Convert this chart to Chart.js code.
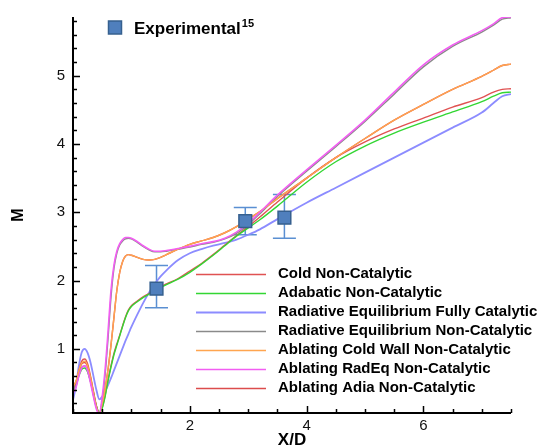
<!DOCTYPE html>
<html>
<head>
<meta charset="utf-8">
<script src="https://cdn.jsdelivr.net/npm/chart.js@4.4.1/dist/chart.umd.min.js"></script>
<style>
  html, body { margin: 0; padding: 0; background: #fff; }
</style>
</head>
<body>
<canvas id="machChart" width="545" height="448"></canvas>
<script>
// X/D stations shared by every computed curve
const xd = [0, 0.05, 0.1, 0.15, 0.2, 0.25, 0.3, 0.35, 0.4, 0.45,
  0.5, 0.55, 0.6, 0.65, 0.7, 0.75, 0.8, 0.85, 0.9, 0.95,
  1.0, 1.1, 1.2, 1.3, 1.4, 1.5, 1.6, 1.8, 2.0, 2.2,
  2.4, 2.6, 2.8, 3.0, 3.2, 3.5, 4.0, 4.5, 5.0, 5.5,
  6.0, 6.5, 7.0, 7.2, 7.35, 7.5];

// Mach number along the body for each case
const coldNonCat = [0.42, 0.50, 0.68, 0.82, 0.85, 0.78, 0.60, 0.38, 0.17, 0.06,
  0.14, 0.32, 0.55, 0.75, 0.93, 1.07, 1.20, 1.34, 1.47, 1.57,
  1.63, 1.70, 1.76, 1.81, 1.86, 1.91, 1.95, 2.03, 2.14, 2.25,
  2.38, 2.52, 2.66, 2.79, 2.93, 3.15, 3.50, 3.80, 4.03, 4.22,
  4.38, 4.54, 4.68, 4.76, 4.80, 4.81];
const adiabNonCat = [0.38, 0.45, 0.60, 0.70, 0.72, 0.66, 0.52, 0.34, 0.16, 0.07,
  0.13, 0.30, 0.53, 0.73, 0.91, 1.05, 1.19, 1.33, 1.46, 1.56,
  1.62, 1.69, 1.75, 1.80, 1.85, 1.90, 1.94, 2.02, 2.12, 2.24,
  2.37, 2.51, 2.65, 2.77, 2.89, 3.09, 3.44, 3.74, 3.97, 4.16,
  4.32, 4.47, 4.62, 4.70, 4.75, 4.76];
const radEqFullyCat = [0.25, 0.45, 0.75, 0.95, 1.00, 0.94, 0.80, 0.60, 0.40, 0.26,
  0.30, 0.38, 0.47, 0.57, 0.68, 0.79, 0.90, 1.01, 1.12, 1.22,
  1.32, 1.50, 1.67, 1.82, 1.95, 2.06, 2.15, 2.30, 2.40, 2.46,
  2.51, 2.55, 2.60, 2.67, 2.75, 2.90, 3.14, 3.36, 3.58, 3.80,
  4.02, 4.24, 4.46, 4.60, 4.70, 4.73];
const radEqNonCat = [0.40, 0.47, 0.62, 0.73, 0.75, 0.68, 0.52, 0.32, 0.14, 0.05,
  0.25, 0.62, 1.15, 1.75, 2.17, 2.40, 2.52, 2.58, 2.61, 2.62,
  2.61, 2.56, 2.50, 2.45, 2.42, 2.42, 2.43, 2.46, 2.49, 2.53,
  2.56, 2.61, 2.69, 2.82, 2.98, 3.23, 3.60, 3.96, 4.33, 4.73,
  5.13, 5.43, 5.64, 5.74, 5.83, 5.85];
const ablColdNonCat = [0.45, 0.52, 0.68, 0.79, 0.82, 0.75, 0.58, 0.36, 0.15, 0.05,
  0.20, 0.42, 0.70, 1.05, 1.45, 1.85, 2.12, 2.28, 2.36, 2.38,
  2.37, 2.34, 2.31, 2.30, 2.31, 2.34, 2.38, 2.46, 2.53, 2.58,
  2.63, 2.70, 2.79, 2.90, 3.01, 3.20, 3.50, 3.80, 4.08, 4.35,
  4.58, 4.80, 4.99, 5.08, 5.15, 5.17];
const ablRadEqNonCat = [0.35, 0.43, 0.60, 0.72, 0.75, 0.68, 0.50, 0.30, 0.12, 0.05,
  0.30, 0.70, 1.25, 1.85, 2.22, 2.43, 2.54, 2.60, 2.63, 2.63,
  2.62, 2.57, 2.51, 2.46, 2.43, 2.43, 2.44, 2.47, 2.50, 2.54,
  2.57, 2.62, 2.71, 2.84, 3.00, 3.25, 3.62, 3.98, 4.35, 4.76,
  5.16, 5.45, 5.66, 5.76, 5.85, 5.86];
const ablAdiaNonCat = [0.44, 0.52, 0.67, 0.78, 0.80, 0.74, 0.57, 0.36, 0.16, 0.06,
  0.20, 0.42, 0.70, 1.05, 1.45, 1.85, 2.12, 2.28, 2.36, 2.38,
  2.37, 2.34, 2.31, 2.30, 2.31, 2.34, 2.38, 2.46, 2.53, 2.58,
  2.63, 2.70, 2.79, 2.90, 3.01, 3.20, 3.50, 3.80, 4.08, 4.35,
  4.58, 4.80, 4.99, 5.08, 5.15, 5.17];

// Experimental points (ref. 15) with error bars
const expX = [1.43, 2.95, 3.62];
const expM = [1.88, 2.87, 2.92];
const expLow = [1.60, 2.67, 2.62];
const expHigh = [2.22, 3.07, 3.26];

const seriesNames = ["Cold Non-Catalytic", "Adabatic Non-Catalytic",
  "Radiative Equilibrium Fully Catalytic", "Radiative Equilibrium Non-Catalytic",
  "Ablating Cold Wall Non-Catalytic", "Ablating RadEq Non-Catalytic",
  "Ablating Adia Non-Catalytic"];
const seriesValues = [coldNonCat, adiabNonCat, radEqFullyCat, radEqNonCat,
  ablColdNonCat, ablRadEqNonCat, ablAdiaNonCat];

// tick labels
const xTickLabels = [2, 4, 6];
const yTickLabels = [1, 2, 3, 4, 5];

// styles
const seriesColors = ["#e05252", "#33d633", "#8c8cff", "#8a8a8a", "#ffa54f", "#f25ef2", "#dc4c4c"];
const seriesWidths = [1.4, 1.4, 1.8, 1.4, 1.4, 1.6, 1.4];
const seriesOrder = [4, 3, 6, 2, 1, 0, 5]; // lower = drawn on top
const FONT = "'Liberation Sans', Arial, Helvetica, sans-serif";

const xMinor = [];
for (let i = 0; i <= 15; i++) xMinor.push(i / 2);
const yMinor = [];
for (let i = 1; i <= 29; i++) yMinor.push(Math.round(i * 2) / 10);

const datasets = seriesValues.map((vals, i) => ({
  label: seriesNames[i],
  data: xd.map((x, j) => ({ x: x, y: vals[j] })),
  borderColor: seriesColors[i],
  borderWidth: seriesWidths[i],
  pointRadius: 0,
  fill: false,
  cubicInterpolationMode: "monotone",
  order: seriesOrder[i]
}));

datasets.push({
  label: "Experimental",
  data: expX.map((x, j) => ({ x: x, y: expM[j] })),
  showLine: false,
  pointStyle: "rect",
  pointRadius: 9,
  pointBackgroundColor: "#4f7fbd",
  pointBorderColor: "#36608f",
  pointBorderWidth: 1.5,
  order: -1
});

// error bars behind the squares
const errorBars = {
  id: "errorBars",
  beforeDatasetsDraw(chart) {
    const { ctx, scales: { x, y } } = chart;
    ctx.save();
    ctx.strokeStyle = "#5a8fd2";
    ctx.lineWidth = 1.5;
    expX.forEach((v, i) => {
      const px = x.getPixelForValue(v);
      const lo = y.getPixelForValue(expLow[i]);
      const hi = y.getPixelForValue(expHigh[i]);
      ctx.beginPath();
      ctx.moveTo(px, lo); ctx.lineTo(px, hi);
      ctx.moveTo(px - 11.5, lo); ctx.lineTo(px + 11.5, lo);
      ctx.moveTo(px - 11.5, hi); ctx.lineTo(px + 11.5, hi);
      ctx.stroke();
    });
    ctx.restore();
  }
};

// Tecplot style axes: only left and bottom, ticks pointing inward
const tecAxes = {
  id: "tecAxes",
  afterDraw(chart) {
    const { ctx, chartArea: a, scales: { x, y } } = chart;
    ctx.save();
    ctx.strokeStyle = "#000";
    ctx.lineWidth = 1.5;
    ctx.beginPath();
    xMinor.forEach(v => {
      const px = Math.round(x.getPixelForValue(v)) + 0.5;
      const len = xTickLabels.includes(v) ? 7 : 4;
      ctx.moveTo(px, a.bottom); ctx.lineTo(px, a.bottom - len);
    });
    yMinor.forEach(v => {
      const py = Math.round(y.getPixelForValue(v)) + 0.5;
      const len = yTickLabels.includes(v) ? 7 : 4;
      ctx.moveTo(a.left, py); ctx.lineTo(a.left + len, py);
    });
    ctx.stroke();
    ctx.lineWidth = 2;
    ctx.beginPath();
    ctx.moveTo(a.left, a.top);
    ctx.lineTo(a.left, a.bottom);
    ctx.lineTo(a.right, a.bottom);
    ctx.stroke();
    ctx.restore();
  }
};

// the two legends drawn inside the frame
const legends = {
  id: "legends",
  afterDraw(chart) {
    const ctx = chart.ctx;
    ctx.save();
    // Experimental marker
    ctx.fillStyle = "#4f7fbd";
    ctx.strokeStyle = "#36608f";
    ctx.lineWidth = 1.5;
    ctx.fillRect(108.5, 21, 13, 13);
    ctx.strokeRect(108.5, 21, 13, 13);
    ctx.fillStyle = "#000";
    ctx.textBaseline = "alphabetic";
    ctx.font = "bold 17px " + FONT;
    ctx.fillText("Experimental", 134, 33.5);
    const w = ctx.measureText("Experimental").width;
    ctx.font = "bold 11px " + FONT;
    ctx.fillText("15", 134 + w + 1, 27);

    // line legend
    ctx.font = "bold 15px " + FONT;
    ctx.textBaseline = "middle";
    seriesNames.forEach((name, i) => {
      const yy = 274 + i * 19;
      ctx.strokeStyle = seriesColors[i];
      ctx.lineWidth = seriesWidths[i];
      ctx.beginPath();
      ctx.moveTo(196, yy + 0.5);
      ctx.lineTo(266, yy + 0.5);
      ctx.stroke();
      ctx.fillStyle = "#000";
      ctx.fillText(name, 278, yy);
    });
    ctx.restore();
  }
};

const machChart = new Chart(document.getElementById("machChart").getContext("2d"), {
  type: "line",
  data: { datasets: datasets },
  options: {
    responsive: false,
    animation: false,
    devicePixelRatio: 1,
    layout: { padding: { top: 13, right: 34, bottom: 0, left: 0 } },
    plugins: { legend: { display: false }, tooltip: { enabled: false } },
    scales: {
      x: {
        type: "linear",
        min: 0,
        max: 7.5,
        grid: { display: false, drawTicks: false },
        border: { display: false },
        afterBuildTicks: s => { s.ticks = xMinor.map(v => ({ value: v })); },
        afterFit: s => { s.height = 35; },
        ticks: {
          autoSkip: false,
          maxRotation: 0,
          padding: 4,
          color: "#111",
          font: { family: FONT, size: 15 },
          callback: v => xTickLabels.includes(v) ? String(v) : ""
        },
        title: {
          display: true,
          text: "X/D",
          color: "#000",
          font: { family: FONT, size: 17, weight: "bold", lineHeight: 1 },
          padding: { top: 0, bottom: -1 }
        }
      },
      y: {
        type: "linear",
        min: 0.06,
        max: 5.86,
        grid: { display: false, drawTicks: false },
        border: { display: false },
        afterBuildTicks: s => { s.ticks = yMinor.map(v => ({ value: v })); },
        afterFit: s => { s.width = 73; },
        ticks: {
          autoSkip: false,
          padding: 8,
          color: "#111",
          font: { family: FONT, size: 15 },
          callback: v => yTickLabels.includes(v) ? String(v) : ""
        },
        title: {
          display: true,
          text: "M",
          color: "#000",
          font: { family: FONT, size: 16, weight: "bold", lineHeight: 1 },
          padding: { top: 11, bottom: 0 }
        }
      }
    }
  },
  plugins: [errorBars, tecAxes, legends]
});
</script>
</body>
</html>
